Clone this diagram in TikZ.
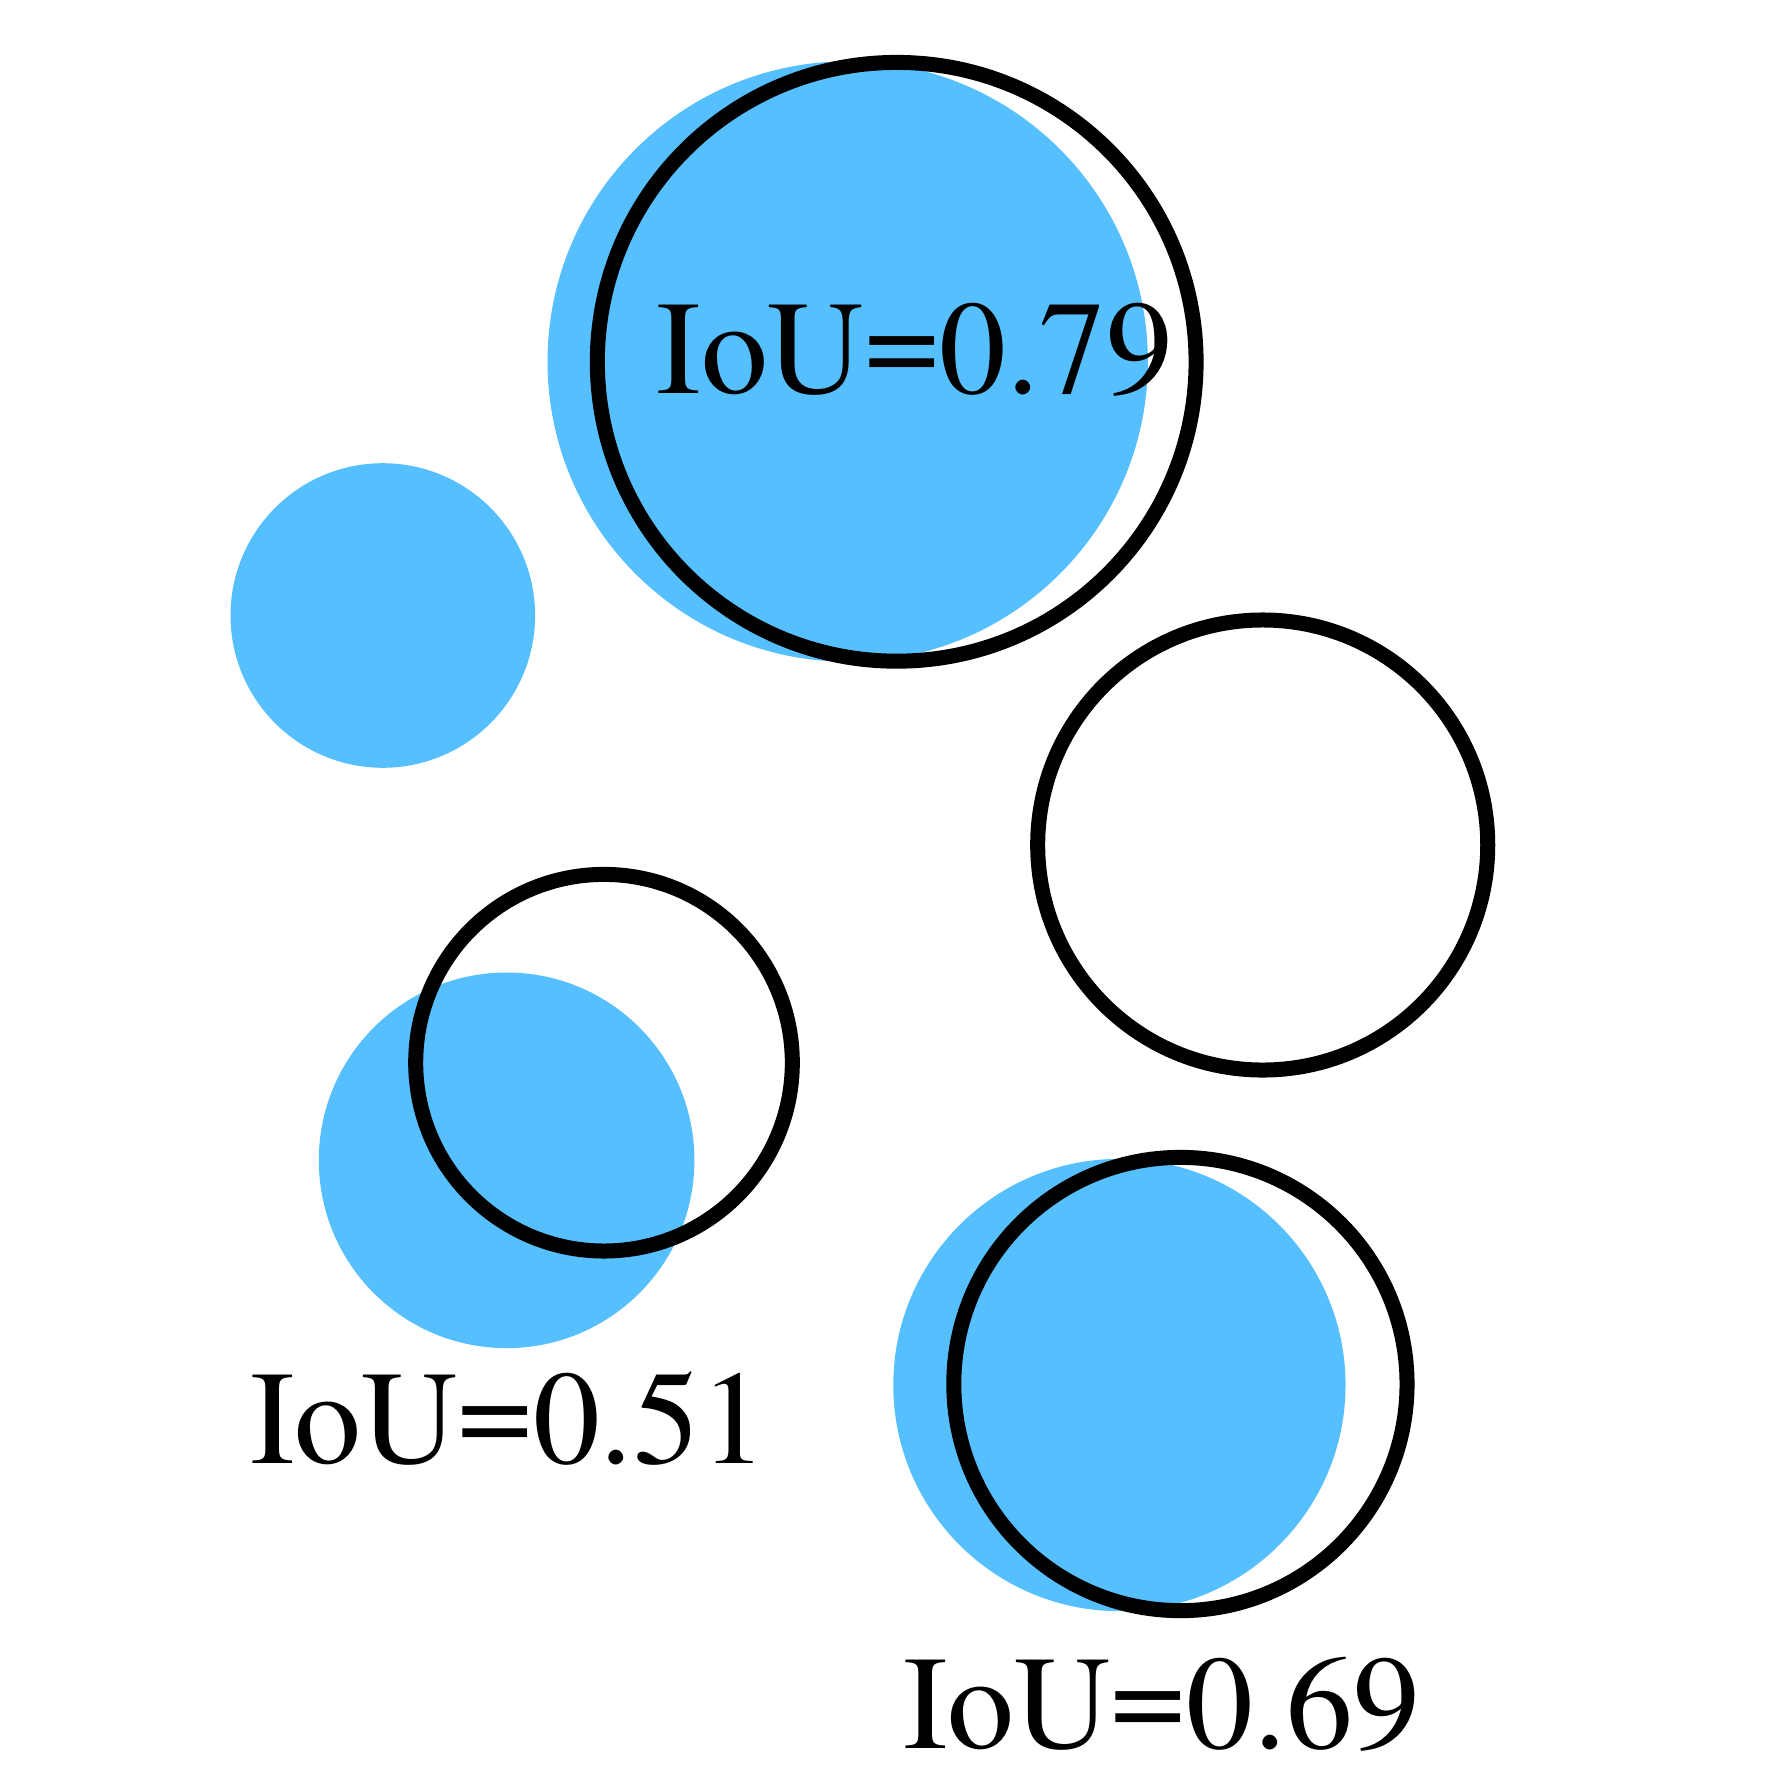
\documentclass[tikz,border=0pt]{standalone}
\usepackage{fontspec}
\setmainfont{texgyretermes-regular.otf}
\definecolor{gtblue}{RGB}{86,191,253}
\newcommand{\eqsign}{\raisebox{2.2pt}{=}}
\begin{document}
\begin{tikzpicture}[x=0.01cm,y=-0.01cm,
  gt/.style={fill=gtblue},
  pred/.style={draw=black,line width=0.15cm},
  lbl/.style={inner sep=0pt,outer sep=0pt,anchor=base west,font=\fontsize{38}{42}\selectfont}]
\useasboundingbox (0,0) rectangle (1789,1773);
% ground-truth (blue) circles
\fill[gt] (847.7,361.5) circle[radius=3cm];
\fill[gt] (382.8,615.5) circle[radius=1.522cm];
\fill[gt] (506.6,1160.3) circle[radius=1.877cm];
\fill[gt] (1119.4,1385) circle[radius=2.26cm];
% predicted (black outline) circles
\draw[pred] (896.7,361.8) circle[radius=2.992cm];
\draw[pred] (1262.7,845) circle[radius=2.249cm];
\draw[pred] (604,1062.7) circle[radius=1.882cm];
\draw[pred] (1180.4,1384) circle[radius=2.265cm];
% labels
\node[lbl] (l79) at (656.5,393.6) {IoU\eqsign0.79};
\node[lbl] (l51) at (250,1463.6) {IoU\eqsign0.51};
\node[lbl] (l69) at (903,1748) {IoU\eqsign0.69};
\end{tikzpicture}
\end{document}
